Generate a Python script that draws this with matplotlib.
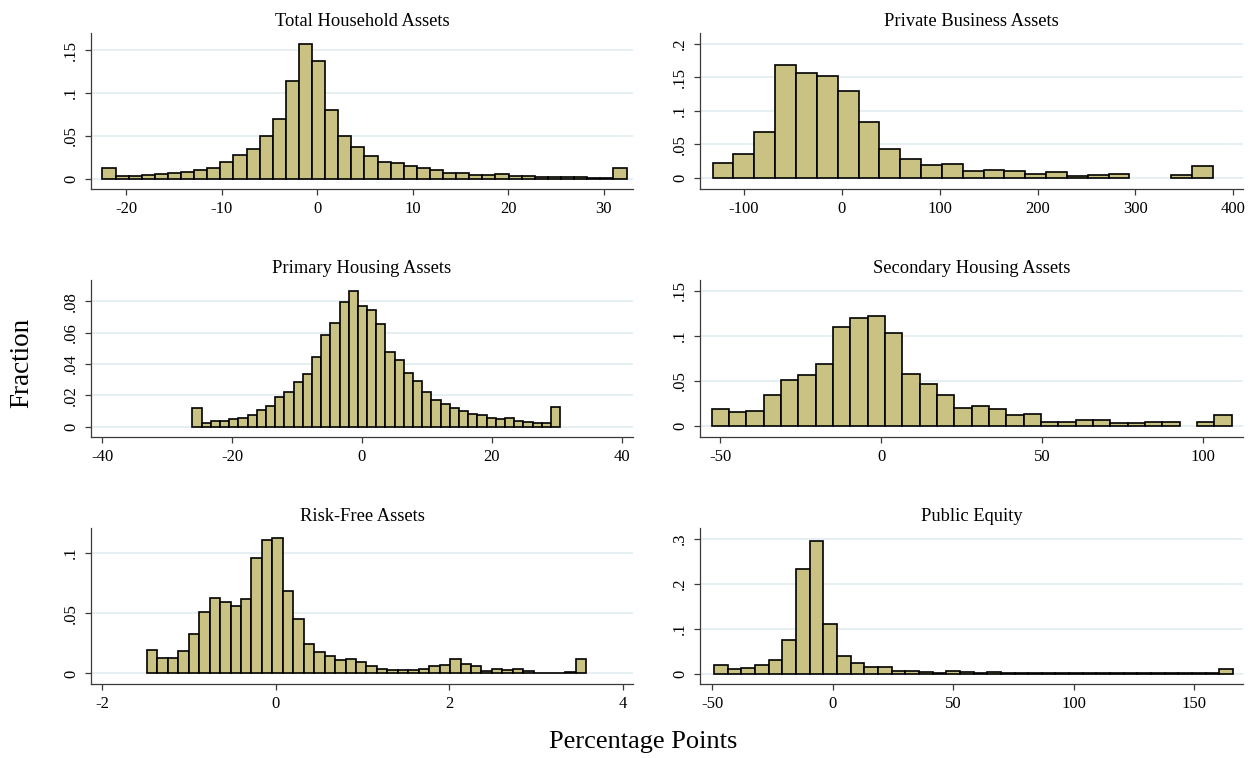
import numpy as np
import matplotlib
matplotlib.use("Agg")
import matplotlib.pyplot as plt
from matplotlib.ticker import FuncFormatter

plt.rcParams["font.family"] = ["Liberation Serif", "DejaVu Serif"]
plt.rcParams["axes.unicode_minus"] = False

FILL = "#CAC283"
GRID = "#E6EFF1"
AXIS = "#3a3a3a"

# ---- data: fraction per bin, bins described by first edge and width
total_start, total_width = -22.5, 1.372
total_frac = [0.013, 0.003, 0.004, 0.005, 0.006, 0.0067, 0.0086, 0.011, 0.0133, 0.0196,
              0.028, 0.035, 0.050, 0.070, 0.1146, 0.1577, 0.137, 0.080, 0.0497, 0.037,
              0.0266, 0.020, 0.019, 0.015, 0.0125, 0.0105, 0.0070, 0.0065, 0.0050, 0.0050,
              0.0052, 0.0037, 0.0036, 0.0024, 0.0024, 0.0020, 0.0020, 0.0016, 0.0016, 0.0122]

private_start, private_width = -132.0, 21.3
private_frac = [0.022, 0.036, 0.069, 0.169, 0.157, 0.152, 0.130, 0.083, 0.043, 0.029,
                0.019, 0.021, 0.0105, 0.0115, 0.0105, 0.006, 0.009, 0.0025, 0.004, 0.006,
                0.0, 0.0, 0.004, 0.018]

primary_start, primary_width = -26.1, 1.415
primary_frac = [0.0119, 0.0020, 0.0033, 0.0033, 0.0046, 0.0052, 0.0072, 0.0104, 0.0132, 0.0186,
                0.0219, 0.0286, 0.0334, 0.0447, 0.0585, 0.0662, 0.0798, 0.0869, 0.0768, 0.0742,
                0.0653, 0.0479, 0.0423, 0.0340, 0.0288, 0.0221, 0.0171, 0.0141, 0.0121, 0.0102,
                0.0078, 0.0074, 0.0056, 0.0048, 0.0052, 0.0033, 0.0030, 0.0024, 0.0024, 0.0124]

secondary_start, secondary_width = -52.6, 5.38
secondary_frac = [0.0184, 0.0154, 0.0165, 0.0345, 0.0514, 0.057, 0.0683, 0.110, 0.1197, 0.1216,
                  0.103, 0.058, 0.046, 0.0338, 0.020, 0.0225, 0.0184, 0.0116, 0.013, 0.004,
                  0.004, 0.007, 0.0064, 0.0034, 0.0034, 0.004, 0.004, 0.0, 0.0038, 0.0124]

riskfree_start, riskfree_width = -1.483, 0.1205
riskfree_frac = [0.0196, 0.0131, 0.0126, 0.0187, 0.033, 0.0508, 0.0628, 0.0589, 0.0561, 0.0617,
                 0.0958, 0.1106, 0.112, 0.0679, 0.0455, 0.0243, 0.0176, 0.0142, 0.0108, 0.0117,
                 0.0097, 0.0061, 0.0039, 0.0025, 0.0031, 0.0025, 0.0036, 0.0058, 0.0072, 0.0117,
                 0.0075, 0.0061, 0.0022, 0.0036, 0.0025, 0.0039, 0.0022, 0.0006, 0.0006, 0.0006,
                 0.0014, 0.0117]

equity_start, equity_width = -49.3, 5.67
equity_frac = [0.018, 0.0105, 0.0127, 0.0195, 0.0307, 0.0757, 0.2337, 0.2959, 0.110, 0.0397,
               0.0225, 0.0150, 0.0145, 0.0066, 0.0066, 0.0037, 0.0022, 0.0051, 0.0044, 0.0022,
               0.003, 0.0015, 0.0012, 0.0012, 0.0015, 0.0015, 0.0012, 0.001, 0.001, 0.001,
               0.0008, 0.0008, 0.001, 0.001, 0.0008, 0.0008, 0.0008, 0.0095]

panels = [
    ("Total Household Assets", total_start, total_width, total_frac,
     [-20, -10, 0, 10, 20, 30], [0, .05, .1, .15], (-23.7, 33.06), (-0.0117, 0.170)),
    ("Private Business Assets", private_start, private_width, private_frac,
     [-100, 0, 100, 200, 300, 400], [0, .05, .1, .15, .2], (-144.9, 410.0), (-0.0164, 0.216)),
    ("Primary Housing Assets", primary_start, primary_width, primary_frac,
     [-40, -20, 0, 20, 40], [0, .02, .04, .06, .08], (-41.7, 41.7), (-0.0067, 0.0937)),
    ("Secondary Housing Assets", secondary_start, secondary_width, secondary_frac,
     [-50, 0, 50, 100], [0, .05, .1, .15], (-56.25, 112.3), (-0.0124, 0.162)),
    ("Risk-Free Assets", riskfree_start, riskfree_width, riskfree_frac,
     [-2, 0, 2, 4], [0, .05, .1], (-2.128, 4.12), (-0.0087, 0.1204)),
    ("Public Equity", equity_start, equity_width, equity_frac,
     [-50, 0, 50, 100, 150], [0, .1, .2, .3], (-55.15, 170.3), (-0.0232, 0.324)),
]


def stata_fmt(v, pos):
    s = f"{v:g}"
    if s.startswith("0."):
        s = s[1:]
    return s


W, H = 1257, 758
fig = plt.figure(figsize=(W / 100, H / 100), dpi=100)

col_px = [(91, 633), (700, 1243)]
row_px = [(33, 189), (280, 437), (528, 684)]

for i, (title, start, width, frac, xt, yt, xl, yl) in enumerate(panels):
    (x0, x1) = col_px[i % 2]
    (y0, y1) = row_px[i // 2]
    ax = fig.add_axes([x0 / W, 1 - y1 / H, (x1 - x0) / W, (y1 - y0) / H])

    frac = np.asarray(frac)
    edges = start + width * np.arange(len(frac))
    keep = frac > 0
    ax.bar(edges[keep], frac[keep], width=width, align="edge", color=FILL,
           edgecolor="black", linewidth=1.2, zorder=3)

    ax.set_xlim(*xl)
    ax.set_ylim(*yl)
    ax.set_xticks(xt)
    ax.set_yticks(yt)
    ax.yaxis.set_major_formatter(FuncFormatter(stata_fmt))
    ax.grid(True, axis="y", color=GRID, linewidth=1.4, zorder=0)

    for s in ["top", "right"]:
        ax.spines[s].set_visible(False)
    for s in ["left", "bottom"]:
        ax.spines[s].set_color(AXIS)
        ax.spines[s].set_linewidth(0.9)
    ax.tick_params(axis="both", direction="out", length=4.5, width=0.9, color=AXIS,
                   labelsize=12, pad=4)
    plt.setp(ax.get_yticklabels(), rotation=90, va="center")
    ax.set_title(title, fontsize=13.3, pad=5)

fig.text(22 / W, 1 - 363 / H, "Fraction", rotation=90, ha="center", va="center", fontsize=19.5)
fig.text(643 / W, 1 - 742 / H, "Percentage Points", ha="center", va="center", fontsize=19)

fig.savefig("out.png", dpi=100)
